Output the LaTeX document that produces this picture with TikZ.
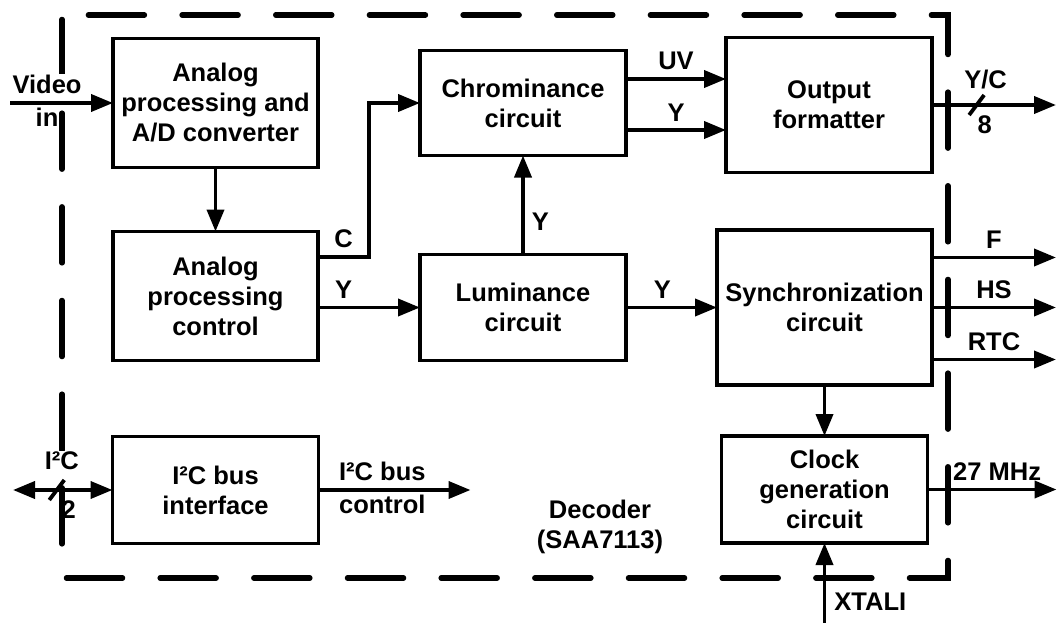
\documentclass[tikz,border=0pt]{standalone}
\usepackage{fontspec}
\setmainfont{Liberation Sans}
\usetikzlibrary{positioning,arrows.meta}

\begin{document}
\begin{tikzpicture}[x=1pt,y=-1pt,
				node distance=64pt,
				every node/.style={
						font=\fontsize{25.5}{30}\selectfont\bfseries,
						inner sep=3pt},
				block/.style={
						draw,
						line width=3.8pt,
						outer sep=0pt,
						inner sep=0pt,
						align=center,
						minimum width=205pt,
						minimum height=129pt},
				lbl/.style={align=center},
				lblw/.style={lbl, fill=white, inner sep=1pt},
				arr/.style={line width=3.8pt, -{Triangle[length=22pt,width=17pt]}},
				darr/.style={line width=3.8pt, {Triangle[length=22pt,width=17pt]}-{Triangle[length=22pt,width=17pt]}},
				slash/.style={line width=3.8pt},
				border/.style={line width=5.5pt, line cap=round,
						dash pattern=on 56pt off 37.67pt, dash phase=89.17pt}]

			\useasboundingbox (0,0) rectangle (1057,623);

			% decoder boundary
			\draw[border] (62,578) -- (948,578) -- (948,15) -- (62,15);
			\draw[border] (62,15) -- (62,578);

			\node[block] (adc) at (215.5,103) {Analog\\processing and\\A/D converter};
			\node[block, below=of adc] (apc) {Analog\\processing\\control};
			\node[block, below=76pt of apc, minimum width=206pt, minimum height=107pt] (i2c) {I²C bus\\interface};
			\node[block, right=102pt of adc, minimum width=206pt, minimum height=105pt] (chroma) {Chrominance\\circuit};
			\node[block, right=100pt of chroma, yshift=-2pt, minimum width=206pt, minimum height=135pt] (outfmt) {Output\\formatter};
			\node[block, below=99pt of chroma, minimum width=206pt, minimum height=106pt] (luma) {Luminance\\circuit};
			\node[block, right=91pt of luma, minimum width=215pt, minimum height=155pt] (sync) {Synchronization\\circuit};
			\node[block, below=51pt of sync, minimum width=206pt, minimum height=107pt] (clock) {Clock\\generation\\circuit};

			\node[lbl] (dec) at (600,527) {Decoder\\(SAA7113)};

			% inputs
			\coordinate (vin) at (10,103);
			\draw[arr] (vin) -- node[lblw, above=6pt, pos=0.36] (vidlbl) {Video}
				node[lbl, below, pos=0.36] (inlbl) {in} (adc);
			\coordinate (xtal) at ([yshift=-80pt]clock.south);
			\draw[arr] (xtal) -- node[lbl, right=5pt, pos=0.27] (xtallbl) {XTALI} (clock);
			\coordinate (i2cin) at (13,490);
			\draw[darr] (i2cin) -- coordinate[pos=0.44] (i2cm) (i2c);
			\draw[slash] ([shift={(-7.5pt,-10pt)}]i2cm) -- ([shift={(7.5pt,10pt)}]i2cm);
			\node[lblw] (i2clbl) at ([shift={(5pt,29pt)}]i2cm) {I²C};
			\node[lbl] (twolbl) at ([shift={(12pt,-20pt)}]i2cm) {2};

			% internal paths
			\draw[arr] (adc) -- (apc);
			\draw[arr] ([yshift=39pt]apc.east) -- node[lbl, above=4pt] (clbl) {C} ++(51,0) |- (chroma.west);
			\draw[arr] (apc.east |- luma.west) -- node[lbl, above=4pt, pos=0.25] (ylbla) {Y} (luma.west);
			\draw[arr] (luma) -- node[lbl, right=4pt, pos=0.33] (ylblb) {Y} (chroma);
			\coordinate (uv) at ([yshift=24pt]chroma.east);
			\coordinate (cy) at ([yshift=-27pt]chroma.east);
			\draw[arr] (uv) -- node[lbl, above=4pt] (uvlbl) {UV} (uv -| outfmt.west);
			\draw[arr] (cy) -- node[lbl, above=4pt] (ylblc) {Y} (cy -| outfmt.west);
			\draw[arr] (luma) -- node[lbl, above=4pt, pos=0.4] (ylbld) {Y} (sync);
			\draw[arr] (sync) -- (clock);
			\draw[arr] (i2c.east) -- node[lbl, above=4pt, pos=0.42] (buslbl) {I²C bus}
				node[lbl, below, pos=0.42] (ctrllbl) {control} ++(152,0);

			% outputs
			\draw[arr] (outfmt.east) -- coordinate[pos=0.36] (ycm) ++(124,0);
			\draw[slash] ([shift={(-7.5pt,-10pt)}]ycm) -- ([shift={(7.5pt,10pt)}]ycm);
			\node[lbl] (yclbl) at ([shift={(9pt,25pt)}]ycm) {Y/C};
			\node[lbl] (eightlbl) at ([shift={(8pt,-20pt)}]ycm) {8};
			\draw[arr] ([yshift=50pt]sync.east) -- node[lbl, above=4pt] (flbl) {F} ++(124,0);
			\draw[arr] (sync.east) -- node[lbl, above=4pt] (hslbl) {HS} ++(124,0);
			\draw[arr] ([yshift=-52pt]sync.east) -- node[lbl, above=4pt] (rtclbl) {RTC} ++(124,0);
			\draw[arr] (clock.east) -- node[lbl, above=4pt, pos=0.54] (mhzlbl) {27 MHz} ++(129,0);

		\end{tikzpicture}
\end{document}
